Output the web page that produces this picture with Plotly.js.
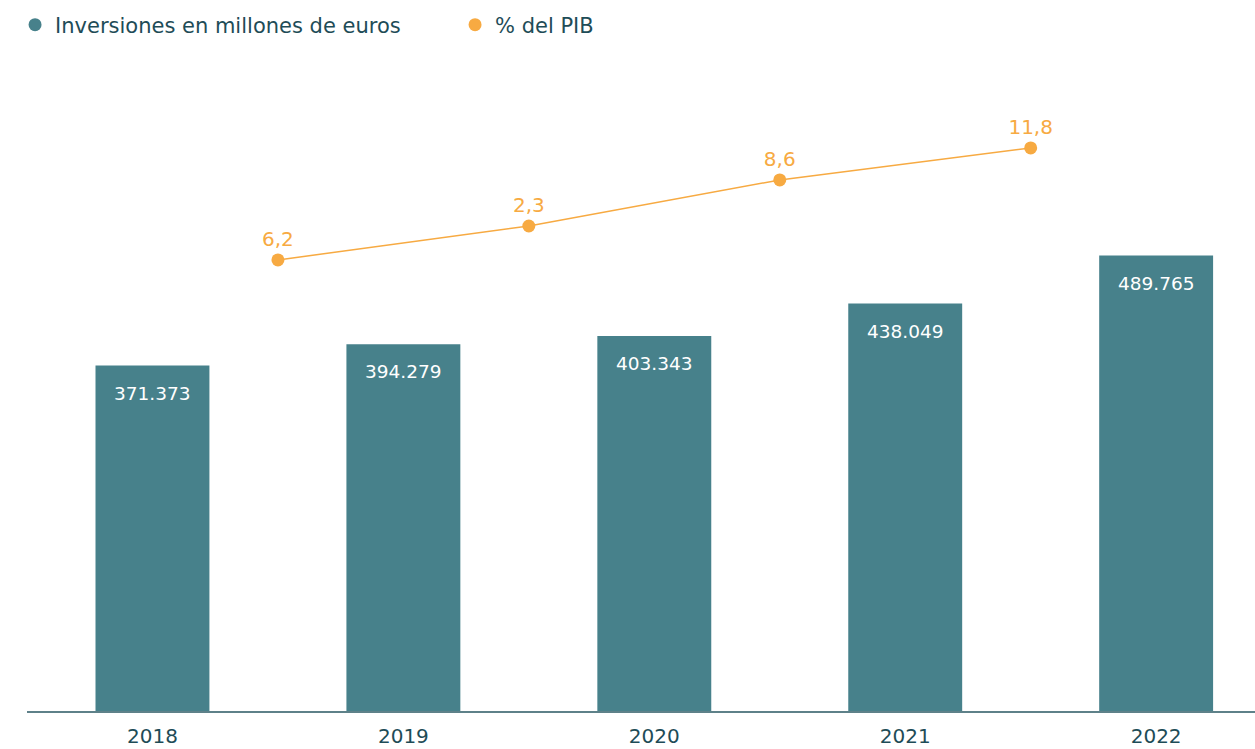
<!DOCTYPE html>
<html>
<head>
<meta charset="utf-8">
<script src="https://cdn.plot.ly/plotly-3.0.1.min.js"></script>
<style>html,body{margin:0;padding:0;background:#fff;overflow:hidden}#chart{width:1255px;height:749px}</style>
</head>
<body>
<div id="chart"></div>
<script>
const years = [2018, 2019, 2020, 2021, 2022];
const inversiones = [371373, 394279, 403343, 438049, 489765];
const inversionesLabels = ['371.373', '394.279', '403.343', '438.049', '489.765'];
const pibX = [2018.5, 2019.5, 2020.5, 2021.5];
const pibLinePos = [9.70, 10.43, 11.42, 12.11];
const pibLabels = ['6,2', '2,3', '8,6', '11,8'];
const legendNames = ['Inversiones en millones de euros', '% del PIB'];

const teal = '#47818b';
const orange = '#f7aa42';
const textDark = '#1e4c57';
const FONT = 'DejaVu Sans, sans-serif';

const traces = [
  {
    type: 'bar', x: years, y: inversiones, showlegend: false,
    marker: {color: teal}, width: 0.454, hoverinfo: 'skip'
  },
  {
    type: 'scatter', mode: 'lines+markers+text', x: pibX, y: pibLinePos, yaxis: 'y2',
    showlegend: false, text: pibLabels, textposition: 'top center',
    textfont: {family: FONT, size: 20, color: orange},
    line: {color: orange, width: 1.5}, marker: {color: orange, size: 13},
    hoverinfo: 'skip'
  },
  {
    type: 'scatter', mode: 'markers', x: [null], y: [null], name: legendNames[0],
    marker: {color: teal, size: 13, symbol: 'circle'}
  },
  {
    type: 'scatter', mode: 'markers', x: [null], y: [null], name: legendNames[1],
    marker: {color: orange, size: 13, symbol: 'circle'}
  }
];

const annotations = years.map((yr, i) => ({
  x: yr, y: inversiones[i], xref: 'x', yref: 'y', text: inversionesLabels[i],
  showarrow: false, yanchor: 'top', yshift: -15,
  font: {family: FONT, size: 18.5, color: '#ffffff'}
}));

const layout = {
  width: 1255, height: 749,
  margin: {l: 27, r: 0, t: 60, b: 38, autoexpand: false},
  paper_bgcolor: '#ffffff', plot_bgcolor: '#ffffff',
  font: {family: FONT, color: textDark},
  showlegend: true,
  legend: {
    orientation: 'h', xref: 'container', yref: 'container',
    x: 0.012, xanchor: 'left', y: 1 - 25 / 749, yanchor: 'middle',
    font: {family: FONT, size: 21, color: textDark},
    entrywidth: 395, entrywidthmode: 'pixels', tracegroupgap: 0,
    bgcolor: 'rgba(0,0,0,0)'
  },
  xaxis: {
    range: [2017.5, 2022.394], tickvals: years, ticktext: years.map(String),
    showgrid: false, zeroline: false, showline: true, linecolor: '#5e8189', linewidth: 1.5,
    ticks: '', ticklabelstandoff: 6,
    tickfont: {family: FONT, size: 20, color: textDark}, fixedrange: true
  },
  yaxis: {range: [0, 700000], visible: false, showgrid: false, zeroline: false, fixedrange: true},
  yaxis2: {range: [0, 14], overlaying: 'y', visible: false, showgrid: false, zeroline: false, fixedrange: true},
  annotations: annotations
};

Plotly.newPlot('chart', traces, layout, {displayModeBar: false, staticPlot: true});
</script>
</body>
</html>
